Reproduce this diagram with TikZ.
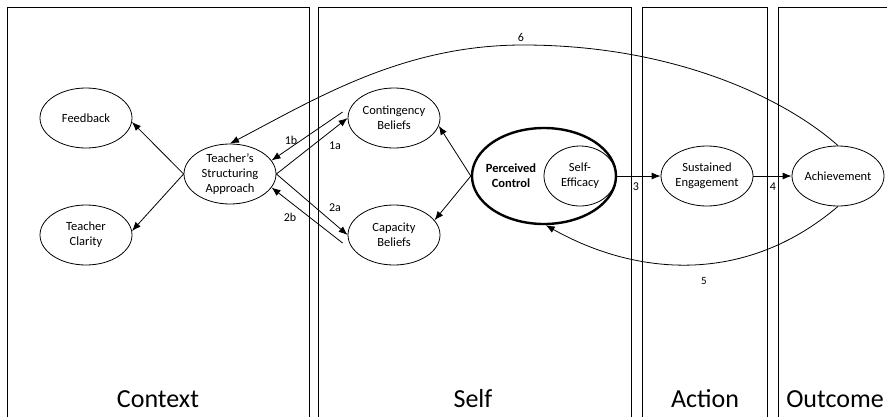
\documentclass[tikz,border=0pt]{standalone}
\usepackage{fontspec}
\setmainfont{Carlito}
\usetikzlibrary{arrows.meta}
\usetikzlibrary{shapes.geometric}

\begin{document}
\begin{tikzpicture}[x=1pt, y=-1pt, line width=0.8pt,
		every node/.style={font=\fontsize{12.5}{15}\selectfont, align=center},
		bubble/.style={ellipse, draw, line width=0.8pt, minimum width=92pt, minimum height=60pt, inner sep=-4pt},
		panel/.style={draw, line width=0.8pt},
		link/.style={-{Latex[length=9pt, width=7pt]}},
		num/.style={font=\fontsize{12}{14}\selectfont, inner sep=0pt},
		heading/.style={font=\fontsize{26}{30}\selectfont, inner sep=0pt, anchor=base}]
		\clip (0,0) rectangle (887,416);
		%Spalten
		\draw [panel] (7,7) rectangle (309,440);
		\draw [panel] (318,7) rectangle (631,440);
		\draw [panel] (642,7) rectangle (767,440);
		\draw [panel] (778,7) rectangle (900,440);
		\node (hcontext) [heading] at (158,407) {Context};
		\node (hself) [heading] at (473,407) {Self};
		\node (haction) [heading] at (705,407) {Action};
		\node (houtcome) [heading] at (835,407) {Outcome};
		%Kontext
		\node (tsa) [bubble] at (230,174) {Teacher’s\\Structuring\\Approach};
		\path (tsa) ++(-144,-56) node (fb) [bubble] {Feedback};
		\path (tsa) ++(-144,61) node (tc) [bubble] {Teacher\\Clarity};
		\draw [link] (tsa.west) to (fb.-5);
		\draw [link] (tsa.west) to (tc.5);
		%Selbst
		\path (tsa) ++(164,-56) node (cont) [bubble] {Contingency\\Beliefs};
		\path (tsa) ++(164,61) node (cap) [bubble] {Capacity\\Beliefs};
		\node (pc) [bubble, minimum width=144pt, minimum height=96pt, line width=2.4pt] at (544,176) {};
		\node (pctext) [font=\fontsize{12.5}{15}\selectfont\bfseries] at (511,176) {Perceived\\Control};
		\node (sef) [bubble, minimum width=72pt] at (580,176) {Self-\\Efficacy};
		\coordinate (b1) at ([shift={(-5,-6)}]cont.west);
		\coordinate (b2) at ([shift={(-5,8)}]cap.west);
		\draw [link] (tsa.east) to (cont.west);
		\draw [link] (b1) to (tsa.18);
		\draw [link] (tsa.east) to (cap.west);
		\draw [link] (b2) to (tsa.-18);
		\node (n1b) [num] at (291,140) {1b};
		\node (n1a) [num] at (335,146) {1a};
		\node (n2a) [num] at (335,208) {2a};
		\node (n2b) [num] at (290,217) {2b};
		\draw [link] (pc.west) to (cont.-10);
		\draw [link] (pc.west) to (cap.20);
		%Handlung und Ergebnis
		\node (sus) [bubble] at (707,176) {Sustained\\Engagement};
		\node (ach) [bubble] at (838,176) {Achievement};
		\draw [link] (sef.east) to (sus.west) node (n3) [num] at (636,187) {3};
		\draw [link] (sus.east) to (ach.west) node (n4) [num] at (773,187) {4};
		%Rückkopplung
		\coordinate (top6) at (523,45);
		\draw [link] (ach.north) .. controls +(-54,-48) and +(150,0) .. (top6) .. controls +(-120,0) and +(86,-45) .. (tsa.north);
		\node (n6) [num] at (521,37) {6};
		\draw [link] (ach.south) .. controls +(-94,80) and +(89,50) .. (pc.-88);
		\node (n5) [num, font=\fontsize{11}{13}\selectfont] at (704,281) {5};
	\end{tikzpicture}
\end{document}
